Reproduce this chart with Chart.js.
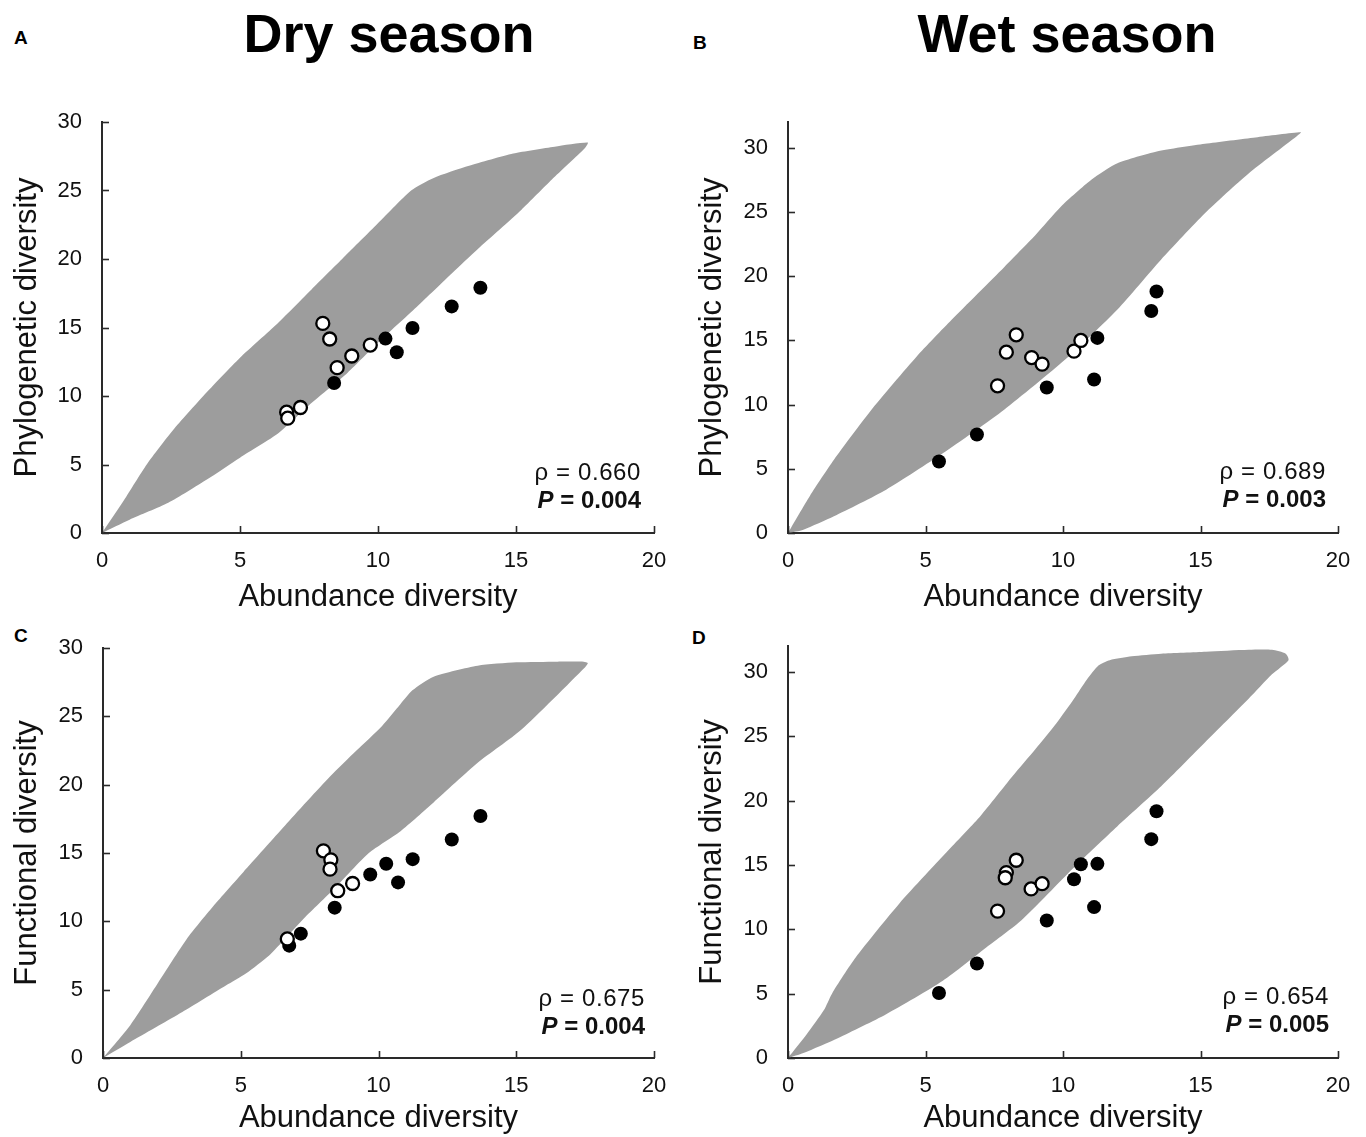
<!DOCTYPE html>
<html><head><meta charset="utf-8">
<script src="https://cdn.jsdelivr.net/npm/chart.js@4.4.1/dist/chart.umd.min.js"></script>
<style>
body{margin:0;background:#fff;width:1366px;height:1137px;position:relative;overflow:hidden;font-family:'Liberation Sans',Arial,Helvetica,sans-serif;color:#000;}
canvas{position:absolute;}
.title{position:absolute;font-weight:bold;font-size:54px;line-height:60px;white-space:nowrap;transform:translateX(-50%);}
.letter{position:absolute;font-weight:bold;font-size:19px;line-height:20px;}
.ann{position:absolute;text-align:right;font-size:24px;line-height:28px;white-space:nowrap;color:#111;}
.rho{letter-spacing:0.6px;}
</style></head><body>
<div class="title" style="left:389px;top:3px;">Dry season</div>
<div class="title" style="left:1067px;top:3px;">Wet season</div>
<div class="letter" style="left:14px;top:28px;">A</div>
<div class="letter" style="left:693px;top:33px;">B</div>
<div class="letter" style="left:14px;top:626px;">C</div>
<div class="letter" style="left:692px;top:628px;">D</div>
<canvas id="cA" width="680" height="520" style="left:0;top:100px"></canvas>
<canvas id="cB" width="686" height="520" style="left:680px;top:100px"></canvas>
<canvas id="cC" width="680" height="517" style="left:0;top:620px"></canvas>
<canvas id="cD" width="686" height="517" style="left:680px;top:620px"></canvas>
<div class="ann" style="right:725px;top:458px;"><span class="rho">ρ = 0.660</span><br><b><i>P</i> = 0.004</b></div>
<div class="ann" style="right:40px;top:457px;"><span class="rho">ρ = 0.689</span><br><b><i>P</i> = 0.003</b></div>
<div class="ann" style="right:721px;top:984px;"><span class="rho">ρ = 0.675</span><br><b><i>P</i> = 0.004</b></div>
<div class="ann" style="right:37px;top:982px;"><span class="rho">ρ = 0.654</span><br><b><i>P</i> = 0.005</b></div>
<script>
// ---------- DATA ----------
const xTicks = [0, 5, 10, 15, 20];
const yTicks = [0, 5, 10, 15, 20, 25, 30];
const xTitle = 'Abundance diversity';
const yTitlePD = 'Phylogenetic diversity';
const yTitleFD = 'Functional diversity';

// Panel A: dry season, phylogenetic diversity
const dryPdOpen = [[8.0,15.3],[8.25,14.16],[8.52,12.07],[9.05,12.92],[9.72,13.72],[7.19,9.16],[6.69,8.82],[6.73,8.38]];
const dryPdFilled = [[8.41,10.95],[10.27,14.19],[10.68,13.19],[11.25,14.96],[12.67,16.54],[13.71,17.9]];
const dryPdEnvelope = [[0,0],[0.8,2.4],[1.62,5],[2.57,7.5],[3.67,10],[5.0,12.8],[6.36,15.3],[7.6,17.8],[8.7,20],[9.9,22.4],[11.2,25],[12.0,25.9],[13.3,26.8],[14.9,27.7],[16.4,28.2],[17.6,28.5],
  [17.5,28.1],[16.3,25.8],[15.2,23.6],[13.6,20.7],[12.7,19.0],[11.4,16.5],[10.0,13.9],[8.9,11.7],[7.6,9.5],[6.4,7.3],[5.0,5.5],[3.8,3.9],[2.4,2.2],[1.0,0.97],[0,0]];

// Panel B: wet season, phylogenetic diversity
const wetPdOpen = [[7.62,11.46],[7.94,14.08],[8.30,15.43],[8.86,13.66],[9.24,13.15],[10.40,14.16],[10.65,14.99]];
const wetPdFilled = [[5.49,5.57],[6.87,7.67],[9.41,11.33],[11.13,11.95],[11.25,15.19],[13.21,17.29],[13.40,18.80]];
const wetPdEnvelope = [[0,0],[0.8,2.9],[1.67,5.7],[3.0,9.5],[4.68,13.74],[5.95,16.6],[7.86,20.7],[9.0,23.2],[9.92,25.4],[11.03,27.5],[11.98,28.78],[13.41,29.7],[15.16,30.3],[17.0,30.8],[18.65,31.2],
  [18.5,30.9],[16.75,28.0],[15.16,24.9],[13.57,21.3],[11.98,17.4],[10.08,13.5],[7.86,9.6],[5.63,6.2],[3.57,3.37],[1.67,1.3],[0.56,0.26],[0,0]];

// Panel C: dry season, functional diversity
const dryFdOpen = [[8.0,15.16],[8.27,14.5],[8.24,13.82],[8.52,12.24],[9.06,12.77],[6.69,8.71]];
const dryFdFilled = [[6.76,8.22],[7.18,9.10],[8.41,11.0],[9.70,13.43],[10.28,14.21],[10.71,12.85],[11.24,14.55],[12.66,15.99],[13.70,17.71]];
const dryFdEnvelope = [[0,0],[0.99,2.4],[2.0,5.5],[3.04,8.7],[4.0,11.1],[5.09,13.6],[6.6,17.0],[8.24,20.6],[9.2,22.5],[10.13,24.3],[10.8,25.9],[11.23,26.9],[12.0,27.9],[13.6,28.7],[15.0,28.95],[16.5,29.0],[17.45,29.0],[17.6,28.9],
  [17.5,28.6],[15.17,24.0],[13.6,21.6],[12.0,18.7],[10.8,16.6],[9.65,15.0],[8.4,12.4],[7.29,10.2],[6.6,8.7],[6.03,7.5],[5.2,6.2],[4.46,5.3],[2.88,3.36],[0.99,1.17],[0,0]];

// Panel D: wet season, functional diversity
const wetFdOpen = [[7.62,11.41],[7.94,14.40],[7.90,14.0],[8.30,15.36],[8.84,13.13],[9.24,13.54]];
const wetFdFilled = [[5.49,5.05],[6.87,7.34],[9.41,10.68],[10.40,13.88],[10.65,15.05],[11.13,11.72],[11.25,15.08],[13.21,17.0],[13.40,19.17]];
const wetFdEnvelope = [[0,0],[0.7,1.9],[1.3,3.7],[1.6,5.0],[2.46,7.8],[4.05,12.0],[5.95,16.4],[7.0,18.8],[8.17,21.9],[9.0,24.0],[9.76,26.0],[10.4,27.9],[10.87,29.4],[11.3,30.5],[11.7,30.9],[12.5,31.2],[13.57,31.4],[15.2,31.55],[16.75,31.7],[17.6,31.7],[18.1,31.4],
  [18.2,30.9],[17.6,29.8],[16.75,27.9],[15.16,24.5],[13.57,21.1],[11.98,18.0],[10.4,14.8],[8.49,10.7],[7.22,8.6],[5.63,6.0],[3.57,3.4],[1.83,1.56],[0.56,0.39],[0,0]];

// ---------- DRAWING ----------
const FONT = "'Liberation Sans', Arial, Helvetica, sans-serif";
const AXIS = '#2a2a2a';

const inwardTicks = {
  id: 'inwardTicks',
  afterDraw(chart) {
    const {ctx, chartArea: a, scales: {x, y}} = chart;
    ctx.save();
    ctx.strokeStyle = AXIS; ctx.lineWidth = 1.6;
    x.ticks.forEach(t => { const p = Math.round(x.getPixelForValue(t.value)) + 0.5; ctx.beginPath(); ctx.moveTo(p, a.bottom); ctx.lineTo(p, a.bottom - 7); ctx.stroke(); });
    y.ticks.forEach(t => { const p = Math.round(y.getPixelForValue(t.value)) + 0.5; ctx.beginPath(); ctx.moveTo(a.left, p); ctx.lineTo(a.left + 7, p); ctx.stroke(); });
    ctx.restore();
  }
};

function makePanel(id, o) {
  new Chart(document.getElementById(id), {
    type: 'scatter',
    data: { datasets: [
      { data: o.open, pointRadius: 6.5, pointHoverRadius: 6.5, pointBackgroundColor: '#fff', pointBorderColor: '#000', pointBorderWidth: 2.3, order: 0 },
      { data: o.filled, pointRadius: 7, pointHoverRadius: 7, pointBackgroundColor: '#000', pointBorderColor: '#000', pointBorderWidth: 0, order: 1 },
      { data: o.env, showLine: true, fill: 'shape', backgroundColor: '#9d9d9d', borderWidth: 0, borderColor: 'rgba(0,0,0,0)', pointRadius: 0, pointHoverRadius: 0, tension: 0.22, order: 2 }
    ]},
    options: {
      responsive: false, animation: false, devicePixelRatio: 1,
      layout: { padding: { top: o.padTop, right: o.padRight, left: 0, bottom: 0 } },
      plugins: { legend: { display: false }, tooltip: { enabled: false } },
      scales: {
        x: {
          type: 'linear', min: xTicks[0], max: xTicks[xTicks.length - 1],
          afterBuildTicks: s => { s.ticks = xTicks.map(v => ({ value: v })); },
          afterFit: s => { s.height = o.xScaleH; },
          grid: { display: false, drawTicks: true, tickLength: 15 },
          border: { display: true, color: AXIS, width: 2 },
          ticks: { padding: 0, color: '#111', font: { family: FONT, size: 22 } },
          title: { display: true, text: xTitle, color: '#111', padding: { top: 0, bottom: o.xTitlePad }, font: { family: FONT, size: 31 } }
        },
        y: {
          type: 'linear', min: 0, max: o.yMax,
          afterBuildTicks: s => { s.ticks = yTicks.map(v => ({ value: v })); },
          afterFit: s => { s.width = o.yScaleW; },
          grid: { display: false, drawTicks: true, tickLength: 20 },
          border: { display: true, color: AXIS, width: 2 },
          ticks: { padding: 0, color: '#111', font: { family: FONT, size: 22 } },
          title: { display: true, text: o.yTitle, color: '#111', padding: { top: o.yTitlePad, bottom: 0 }, font: { family: FONT, size: 31 } }
        }
      }
    },
    plugins: [inwardTicks]
  });
}

makePanel('cA', { open: dryPdOpen, filled: dryPdFilled, env: dryPdEnvelope, yMax: 30, yTitle: yTitlePD, padTop: 22, padRight: 26, yScaleW: 102, xScaleH: 87, xTitlePad: 4, yTitlePad: 9 });
makePanel('cB', { open: wetPdOpen, filled: wetPdFilled, env: wetPdEnvelope, yMax: 32, yTitle: yTitlePD, padTop: 22, padRight: 28, yScaleW: 108, xScaleH: 87, xTitlePad: 4, yTitlePad: 14 });
makePanel('cC', { open: dryFdOpen, filled: dryFdFilled, env: dryFdEnvelope, yMax: 30, yTitle: yTitleFD, padTop: 28, padRight: 26, yScaleW: 103, xScaleH: 79, xTitlePad: 0, yTitlePad: 9 });
makePanel('cD', { open: wetFdOpen, filled: wetFdFilled, env: wetFdEnvelope, yMax: 32, yTitle: yTitleFD, padTop: 26, padRight: 28, yScaleW: 108, xScaleH: 79, xTitlePad: 0, yTitlePad: 14 });
</script>
</body></html>
